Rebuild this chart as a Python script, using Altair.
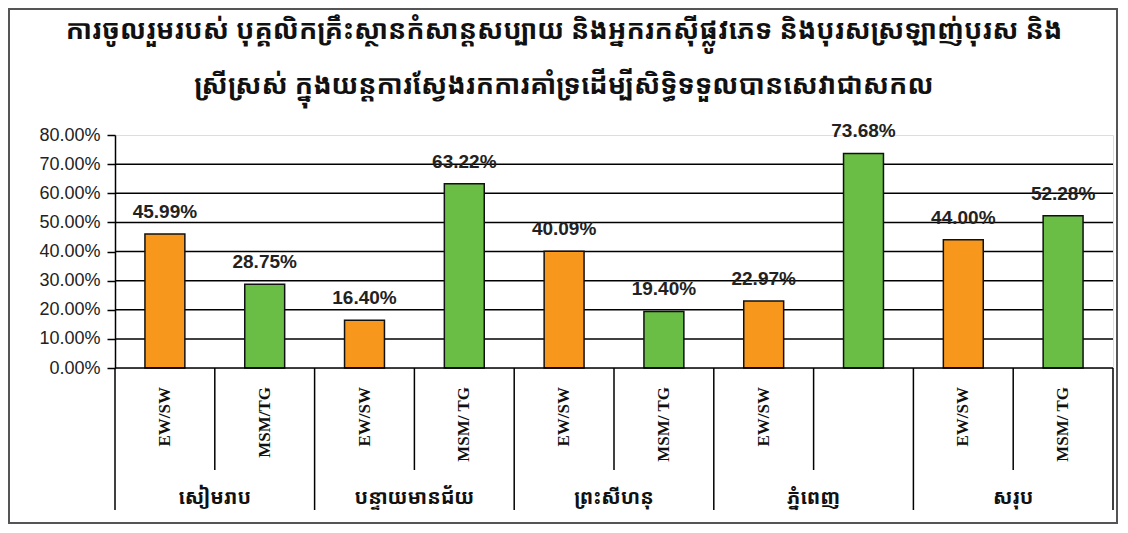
import altair as alt
import pandas as pd

title_lines = [
    "ការចូលរួមរបស់ បុគ្គលិកគ្រឹះស្ថានកំសាន្តសប្បាយ និងអ្នករកស៊ីផ្លូវភេទ និងបុរសស្រឡាញ់បុរស និង",
    "ស្រីស្រស់ ក្នុងយន្តការស្វែងរកការគាំទ្រដើម្បីសិទ្ធិទទួលបានសេវាជាសកល",
]
regions = ["សៀមរាប", "បន្ទាយមានជ័យ", "ព្រះសីហនុ", "ភ្នំពេញ", "សរុប"]
groups = ["EW/SW", "MSM/TG"]
ew_sw = [0.4599, 0.1640, 0.4009, 0.2297, 0.4400]
msm_tg = [0.2875, 0.6322, 0.1940, 0.7368, 0.5228]
sub_labels = ["EW/SW", "MSM/TG", "EW/SW", "MSM/ TG", "EW/SW", "MSM/ TG",
              "EW/SW", "", "EW/SW", "MSM/ TG"]
y_ticks = [0.0, 0.1, 0.2, 0.3, 0.4, 0.5, 0.6, 0.7, 0.8]

W, H = 998, 233
KHMER = "Noto Sans Khmer, Noto Serif Khmer, Khmer OS, Khmer OS System, sans-serif"

rows = []
for r, reg in enumerate(regions):
    for g, (grp, vals) in enumerate(zip(groups, [ew_sw, msm_tg])):
        i = 2 * r + g
        rows.append({"region": reg, "group": grp, "value": vals[r], "zero": 0.0,
                     "slot": i + 0.5, "x0": i + 0.3, "x1": i + 0.7,
                     "sub": sub_labels[i]})
bars_df = pd.DataFrame(rows)

xs = alt.Scale(domain=[0, 10], nice=False, zero=False)
ys = alt.Scale(domain=[0, 0.8], nice=False)
y_axis = alt.Axis(
    values=y_ticks, format=".2%", grid=False, tickSize=8, tickColor="black",
    tickWidth=1.5, domainColor="black", domainWidth=1.5,
    labelFont="Liberation Sans", labelFontSize=18, labelColor="#222",
    labelPadding=7, title=None)

grid_df = pd.DataFrame({"y": y_ticks[1:-1], "a": 0, "b": 10})
grid = alt.Chart(grid_df).mark_rule(color="black", strokeWidth=1.5).encode(
    x=alt.X("a:Q", scale=xs, axis=None),
    x2="b:Q",
    y=alt.Y("y:Q", scale=ys, axis=y_axis),
)

bars = alt.Chart(bars_df).mark_bar(stroke="#111", strokeWidth=1.5).encode(
    x=alt.X("x0:Q", scale=xs, axis=None),
    x2="x1:Q",
    y=alt.Y("value:Q", scale=ys, axis=y_axis),
    y2="zero:Q",
    color=alt.Color("group:N", scale=alt.Scale(domain=groups,
                    range=["#F7981D", "#6ABD45"]), legend=None),
)

labels = alt.Chart(bars_df).mark_text(
    font="Liberation Sans", fontWeight="bold", fontSize=19, color="#222",
    baseline="middle", dy=-22
).encode(
    x=alt.X("slot:Q", scale=xs, axis=None),
    y=alt.Y("value:Q", scale=ys, axis=y_axis),
    text=alt.Text("value:Q", format=".2%"),
)

base_df = pd.DataFrame({"a": [0], "b": [10], "y": [0.0]})
baseline = alt.Chart(base_df).mark_rule(color="black", strokeWidth=1.5).encode(
    x=alt.X("a:Q", scale=xs, axis=None), x2="b:Q",
    y=alt.Y("y:Q", scale=ys, axis=y_axis),
)

cat_sep = alt.Chart(pd.DataFrame({"x": [0, 2, 4, 6, 8, 10]})).mark_rule(
    color="black", strokeWidth=1.5).encode(
    x=alt.X("x:Q", scale=xs, axis=None),
    y=alt.value(H), y2=alt.value(H + 142),
)
sub_sep = alt.Chart(pd.DataFrame({"x": [1, 3, 5, 7, 9]})).mark_rule(
    color="black", strokeWidth=1.5).encode(
    x=alt.X("x:Q", scale=xs, axis=None),
    y=alt.value(H), y2=alt.value(H + 102),
)

sub_text = alt.Chart(bars_df).mark_text(
    font="Liberation Serif, Times New Roman, serif", fontWeight="bold",
    fontSize=17, color="#111", angle=270, align="right", baseline="middle"
).encode(
    x=alt.X("slot:Q", scale=xs, axis=None),
    y=alt.value(H + 19),
    text="sub:N",
)

reg_df = pd.DataFrame({"region": regions, "pos": [2 * r + 1 for r in range(5)]})
reg_text = alt.Chart(reg_df).mark_text(
    font=KHMER, fontWeight="bold", fontSize=20, color="#111", baseline="middle"
).encode(
    x=alt.X("pos:Q", scale=xs, axis=None),
    y=alt.value(H + 130),
    text="region:N",
)

t1 = alt.Chart(pd.DataFrame({"t": [title_lines[0]]})).mark_text(
    font=KHMER, fontWeight="bold", fontSize=27, color="#111", baseline="middle"
).encode(x=alt.value(449), y=alt.value(-104), text="t:N")
t2 = alt.Chart(pd.DataFrame({"t": [title_lines[1]]})).mark_text(
    font=KHMER, fontWeight="bold", fontSize=27, color="#111", baseline="middle"
).encode(x=alt.value(449), y=alt.value(-49), text="t:N")

frame = alt.Chart(base_df).mark_rect(
    fill=None, stroke="#555", strokeWidth=2).encode(
    x=alt.value(-106), x2=alt.value(1002),
    y=alt.value(-126), y2=alt.value(388),
)

chart = alt.layer(
    grid, bars, labels, baseline, cat_sep, sub_sep, sub_text, reg_text, t1, t2, frame
).properties(
    width=W, height=H,
    autosize=alt.AutoSizeParams(type="none"),
    padding={"left": 107, "top": 127, "right": 5, "bottom": 156},
).configure_view(stroke="#999", strokeWidth=1.5).configure(background="white")

chart.save("out.html", embed_options={"renderer": "svg", "actions": False})
